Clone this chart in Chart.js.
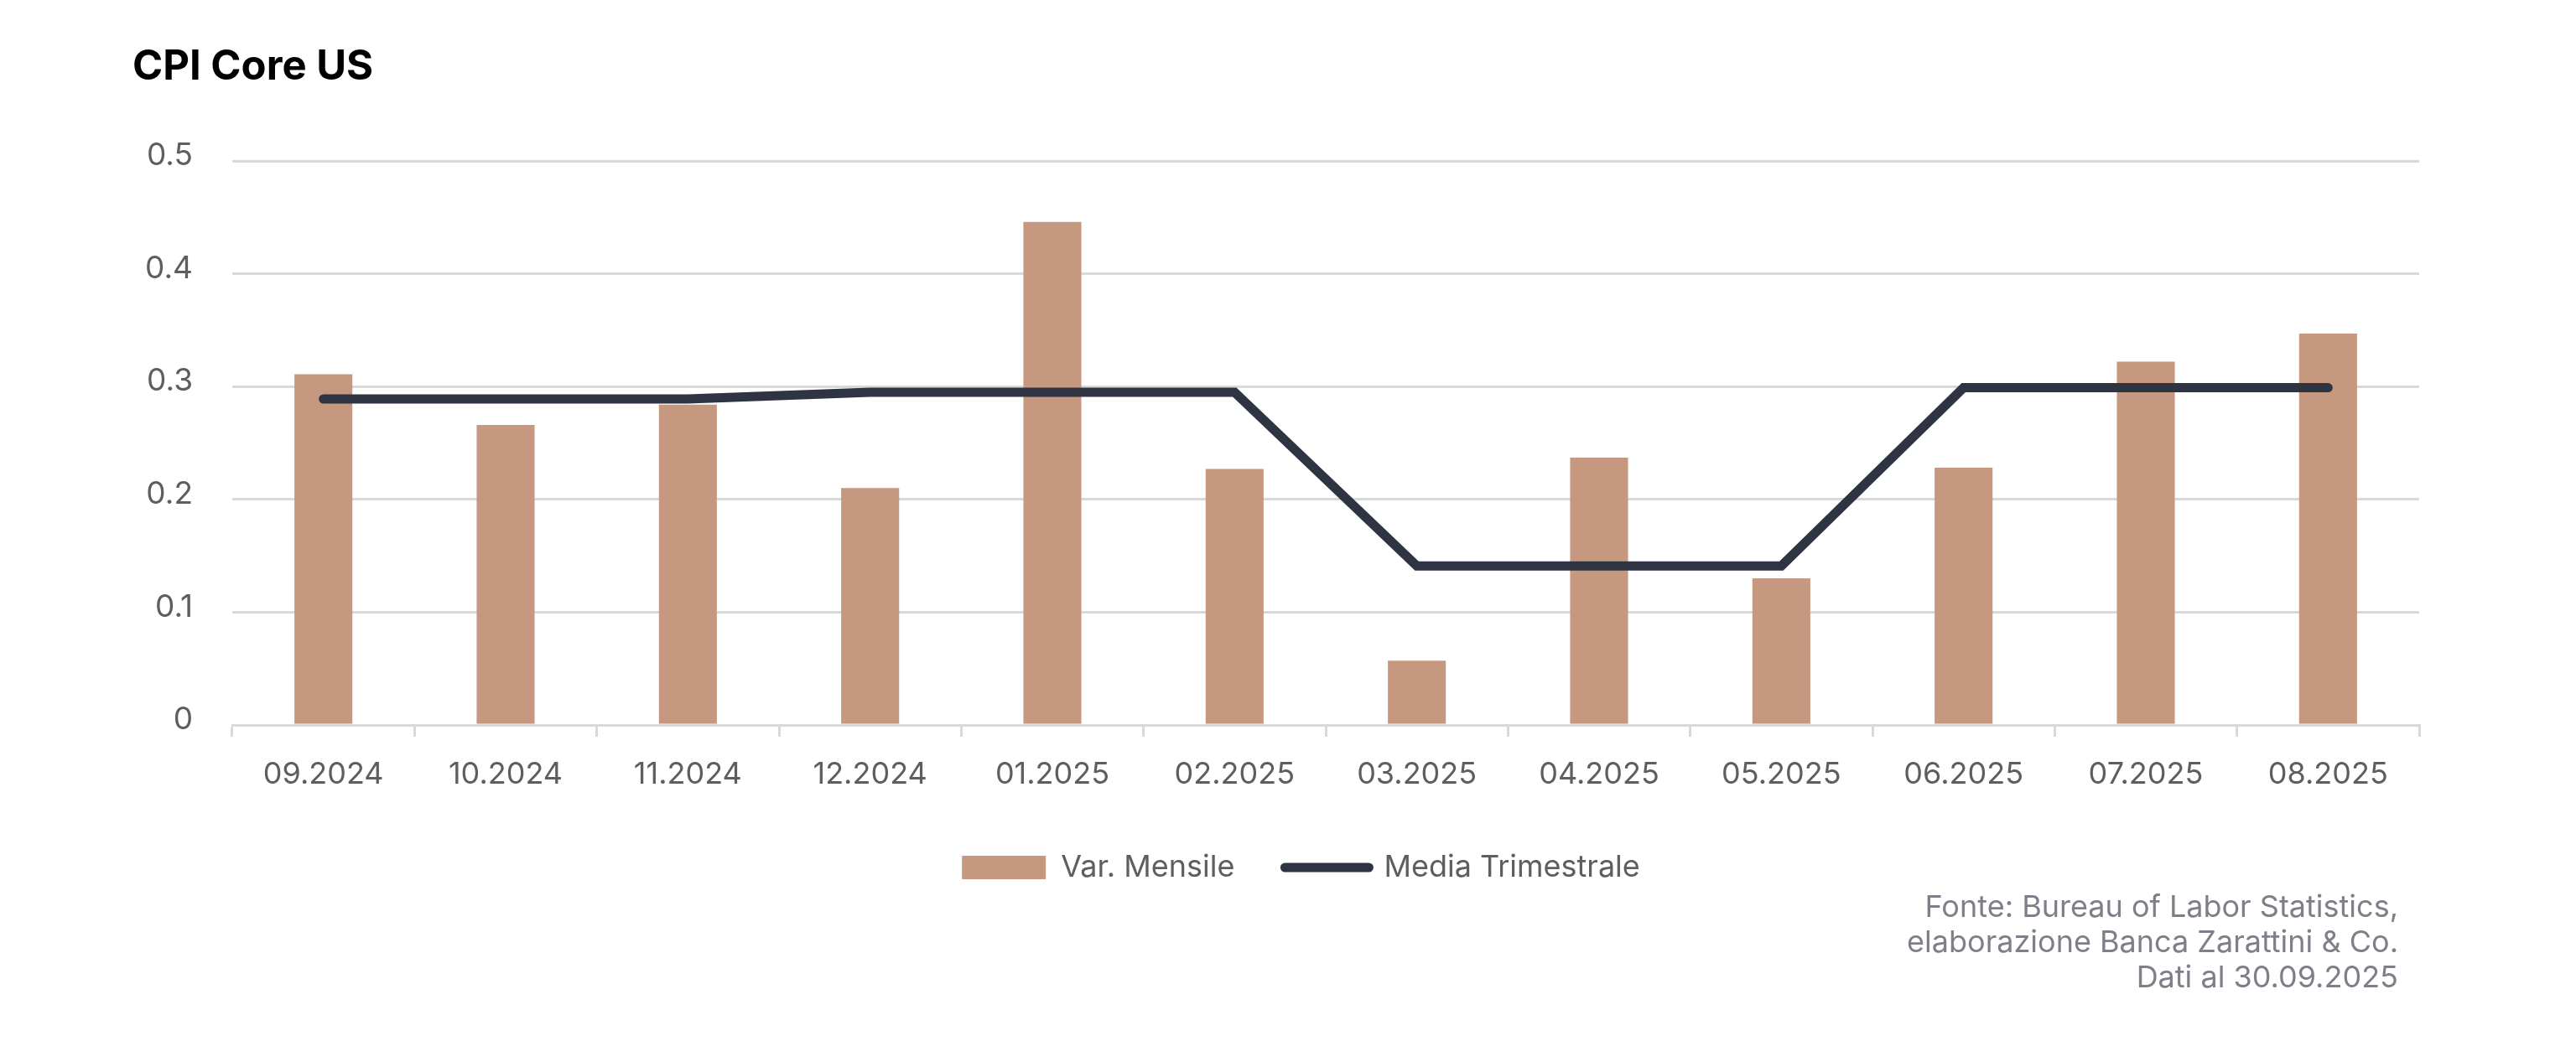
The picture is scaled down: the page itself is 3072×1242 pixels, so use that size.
<!DOCTYPE html>
<html>
<head>
<meta charset="utf-8">
<script src="https://cdn.jsdelivr.net/npm/chart.js@4"></script>
<style>
  html, body { margin: 0; padding: 0; background: #ffffff; }
  #wrap { width: 3072px; height: 1242px; }
</style>
</head>
<body>
<div id="wrap"><canvas id="c" width="3072" height="1242"></canvas></div>
<script>
// ---- Data ----
const titleText = 'CPI Core US';
const categories = ['09.2024','10.2024','11.2024','12.2024','01.2025','02.2025','03.2025','04.2025','05.2025','06.2025','07.2025','08.2025'];
const monthlyLabel = 'Var. Mensile';
const monthlyValues = [0.311, 0.266, 0.284, 0.210, 0.446, 0.227, 0.057, 0.237, 0.130, 0.228, 0.322, 0.347];
const quarterlyLabel = 'Media Trimestrale';
const quarterlyValues = [0.289, 0.289, 0.289, 0.295, 0.295, 0.295, 0.141, 0.141, 0.141, 0.299, 0.299, 0.299];
const yTicks = [0, 0.1, 0.2, 0.3, 0.4, 0.5];
const footnoteLines = ['Fonte: Bureau of Labor Statistics,', 'elaborazione Banca Zarattini & Co.', 'Dati al 30.09.2025'];

// ---- Styles ----
const BAR_COLOR = '#c69880';
const LINE_COLOR = '#2e3442';
const GRID_COLOR = '#d9d9d9';
const AXIS_TEXT = '#5e5e5e';
const NOTE_TEXT = '#7f7f89';
const FONT = 'Inter';

Chart.defaults.font.family = FONT;

const footnotePlugin = {
  id: 'footnote',
  afterDraw(chart) {
    const ctx = chart.ctx;
    ctx.save();
    ctx.font = '36px ' + FONT;
    ctx.fillStyle = NOTE_TEXT;
    ctx.textAlign = 'right';
    ctx.textBaseline = 'alphabetic';
    const x = chart.chartArea.right - 25;
    const y0 = chart.height - 148;
    footnoteLines.forEach((t, i) => ctx.fillText(t, x, y0 + i * 42));
    ctx.restore();
  }
};

// nudge the centred legend row slightly to the right, as in the original
const legendShiftPlugin = {
  id: 'legendShift',
  afterLayout(chart) {
    if (chart.legend) { chart.legend.left += 60; }
  }
};

new Chart(document.getElementById('c'), {
  data: {
    labels: categories,
    datasets: [
      {
        type: 'bar',
        label: monthlyLabel,
        data: monthlyValues,
        backgroundColor: BAR_COLOR,
        borderWidth: 0,
        barPercentage: 0.318,
        categoryPercentage: 1.0,
        order: 2
      },
      {
        type: 'line',
        label: quarterlyLabel,
        data: quarterlyValues,
        borderColor: LINE_COLOR,
        backgroundColor: LINE_COLOR,
        borderWidth: 11,
        borderCapStyle: 'round',
        borderJoinStyle: 'miter',
        pointRadius: 0,
        pointHoverRadius: 0,
        tension: 0,
        fill: false,
        order: 1
      }
    ]
  },
  options: {
    responsive: false,
    devicePixelRatio: 1,
    animation: false,
    events: [],
    layout: { padding: { left: 158, right: 187, top: 0, bottom: 179 } },
    scales: {
      x: {
        offset: true,
        afterFit: (scale) => { scale.height = 92; },
        grid: {
          display: true,
          offset: true,
          drawOnChartArea: false,
          drawTicks: true,
          tickLength: 14,
          color: GRID_COLOR,
          lineWidth: 3
        },
        border: { display: true, color: GRID_COLOR, width: 3 },
        ticks: {
          color: AXIS_TEXT,
          font: { family: FONT, size: 36 },
          padding: 24,
          autoSkip: false,
          maxRotation: 0
        }
      },
      y: {
        min: yTicks[0],
        max: yTicks[yTicks.length - 1],
        afterBuildTicks: (scale) => { scale.ticks = yTicks.map(v => ({ value: v })); },
        afterFit: (scale) => { scale.width = 119; },
        grid: { color: GRID_COLOR, lineWidth: 3, drawTicks: false },
        border: { display: false },
        ticks: {
          color: AXIS_TEXT,
          font: { family: FONT, size: 37 },
          padding: 47,
          labelOffset: -6,
          callback: (v) => String(v)
        }
      }
    },
    plugins: {
      title: {
        display: true,
        text: titleText,
        align: 'start',
        color: '#000000',
        font: { family: FONT, size: 49, weight: '700' },
        padding: { top: 50.6, bottom: 82.6 }
      },
      legend: {
        display: true,
        position: 'bottom',
        labels: {
          usePointStyle: true,
          pointStyleWidth: 100,
          boxHeight: 28,
          padding: 60,
          color: AXIS_TEXT,
          font: { family: FONT, size: 36 },
          generateLabels: (chart) => chart.data.datasets.map((ds, i) => ({
            text: ds.label,
            fillStyle: ds.type === 'line' ? ds.borderColor : ds.backgroundColor,
            strokeStyle: ds.type === 'line' ? ds.borderColor : ds.backgroundColor,
            lineWidth: ds.type === 'line' ? 11 : 0,
            lineCap: 'round',
            pointStyle: ds.type === 'line' ? 'line' : 'rect',
            hidden: false,
            datasetIndex: i,
            fontColor: AXIS_TEXT
          }))
        }
      },
      tooltip: { enabled: false }
    }
  },
  plugins: [footnotePlugin, legendShiftPlugin]
});
</script>
</body>
</html>
